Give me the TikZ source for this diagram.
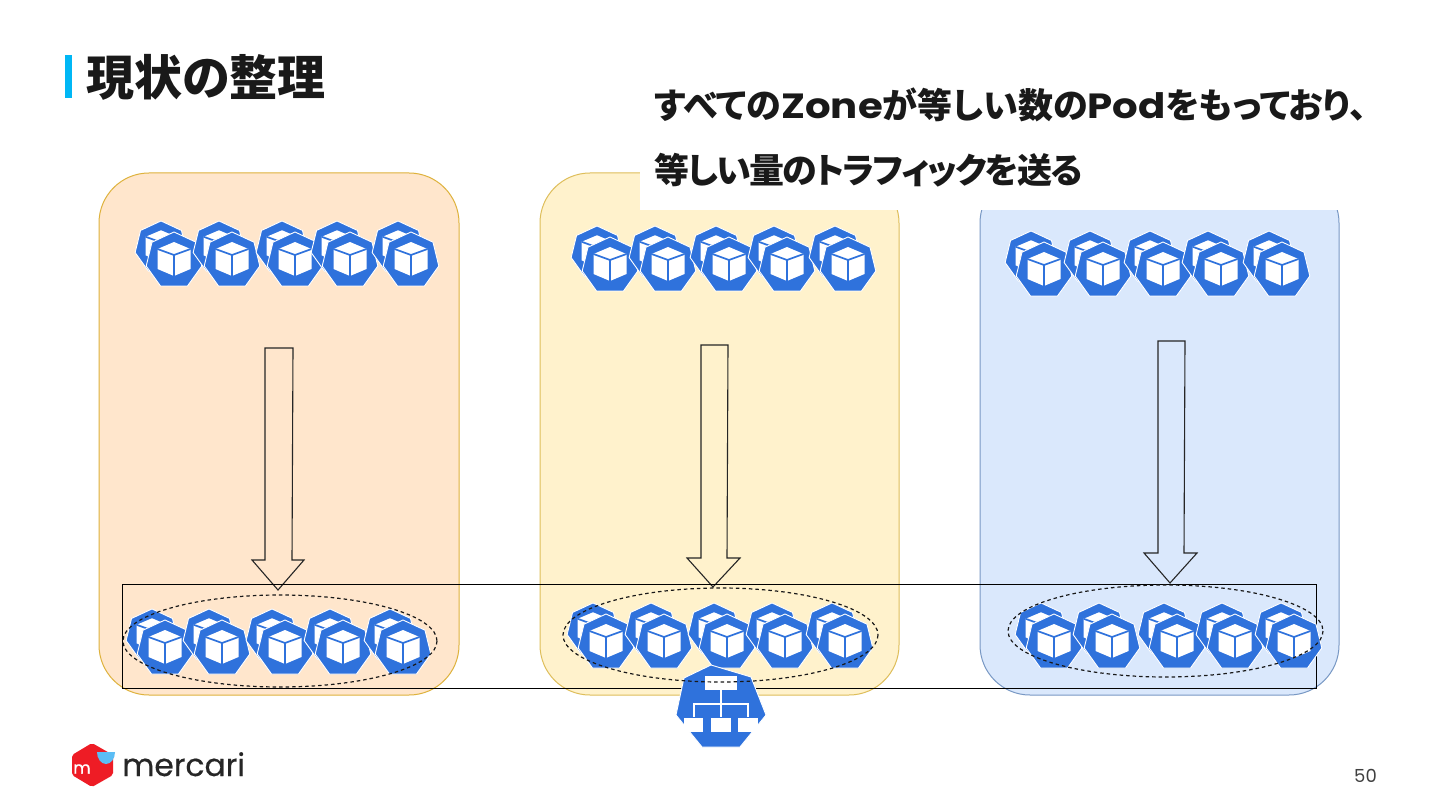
\documentclass[tikz,border=0pt]{standalone}
\usepackage{fontspec}
\newfontfamily\jpfont[RawFeature=+palt]{Noto Sans CJK JP}
\newfontfamily\jptight[RawFeature=+palt,LetterSpace=-5]{Noto Sans CJK JP}
\newfontfamily\latinfont[FakeStretch=1.15]{Poppins}
\newfontfamily\logofont[FakeBold=.5]{Poppins}
\newfontfamily\pagefont{Poppins}
\definecolor{kubeblue}{HTML}{2F72DC}
\definecolor{barcyan}{HTML}{00B7F5}
\definecolor{logored}{HTML}{EE1C25}
\definecolor{logoblue}{HTML}{5BBDF5}
\tikzset{zone/.style={rounded corners=50pt,line width=1pt},
fatarrow/.style={draw=black!85,fill=none,line width=1.1pt},
podring/.style={draw=black!90,line width=1.2pt,dash pattern=on 3.5pt off 3pt},
headline/.style={anchor=base west,inner sep=0pt,text=black!90,font=\fontsize{35}{40}\selectfont\bfseries},
kube/.pic={
\fill[kubeblue,draw=white,line width=.9pt,line join=round] (0,-28) -- (22,-17.8) -- (27.8,6) -- (13.5,26) -- (-13.5,26) -- (-27.8,6) -- (-22,-17.8) -- cycle;
\fill[white] (0,-18) -- (16.5,-11) -- (16.5,9) -- (0,16) -- (-16.5,9) -- (-16.5,-11) -- cycle;
\draw[kubeblue,line width=1.7pt] (-16.5,-11) -- (0,-5) -- (16.5,-11) (0,-5) -- (0,16);
},
pod/.pic={
\pic[scale=.93] at (-13,-13) {kube};
\pic at (0,0) {kube};
}}
\begin{document}
\begin{tikzpicture}[x=1pt,y=-1pt]
\path[use as bounding box,fill=white] (0,0) rectangle (1440,810);
\draw[zone,fill={rgb,255:red,255;green,230;blue,204},draw={rgb,255:red,222;green,178;blue,60}] (99,173) rectangle (459,695);
\draw[zone,fill={rgb,255:red,255;green,242;blue,204},draw={rgb,255:red,222;green,190;blue,90}] (540,173) rectangle (899,695);
\draw[zone,fill={rgb,255:red,218;green,232;blue,252},draw={rgb,255:red,120;green,152;blue,196}] (980,173) rectangle (1339,695);
\fill[white] (640,60) rectangle (1400,210);
\fill[barcyan] (65,55) rectangle (72,98);
\node[anchor=base west,inner sep=0pt,text=black!90,font=\fontsize{48}{52}\selectfont\bfseries\jpfont] (title) at (86,96) {現状の整理};
\node[headline] (line1) at (654,119) {\jpfont すべての\latinfont Zone\jpfont が等しい数の\latinfont Pod\jpfont をもっており、};
\node[headline] (line2) at (654,184) {\jptight 等しい量のトラフィックを送る};
% upper pods
\pic at (174,260) {pod};
\pic at (232,260) {pod};
\pic at (295,260) {pod};
\pic at (350,260) {pod};
\pic at (411,260) {pod};
\pic at (610,265) {pod};
\pic at (668,265) {pod};
\pic at (729,265) {pod};
\pic at (787,265) {pod};
\pic at (848,265) {pod};
\pic at (1044,270) {pod};
\pic at (1103,270) {pod};
\pic at (1163,270) {pod};
\pic at (1221,270) {pod};
\pic at (1282,270) {pod};
% arrows
\draw[fatarrow] (265,348) -- (293,348) -- (292,560) -- (304,560) -- (278,590) -- (252,560) -- (265,560) -- cycle;
\draw[fatarrow] (701,345) -- (728,345) -- (727,558) -- (740,558) -- (713,587) -- (687,558) -- (701,558) -- cycle;
\draw[fatarrow] (1158,341) -- (1185,341) -- (1184,553) -- (1197,553) -- (1170,583) -- (1144,553) -- (1158,553) -- cycle;
\draw[black,line width=.95pt] (122,584) rectangle (1316,688);
% lower pods
\pic at (165,648) {pod};
\pic at (222,648) {pod};
\pic at (285,648) {pod};
\pic at (343,648) {pod};
\pic at (403,648) {pod};
\pic at (606,642) {pod};
\pic at (664,642) {pod};
\pic at (727,642) {pod};
\pic at (785,642) {pod};
\pic at (845,642) {pod};
\pic at (1054,642) {pod};
\pic at (1112,642) {pod};
\pic at (1177,642) {pod};
\pic at (1235,642) {pod};
\pic at (1294,642) {pod};
% service icon
\fill[kubeblue,draw=white,line width=.9pt,line join=round] (711,665) -- (751,677) -- (766,715) -- (740,747) -- (702,747) -- (676,715) -- (684,678) -- cycle;
\fill[white] (705,676) rectangle (737,690);
\draw[white,line width=2.6pt] (721,690) -- (721,705) (694,717) -- (694,704) -- (748,704) -- (748,717) (721,704) -- (721,717);
\fill[white] (684,718) rectangle (703,732);
\fill[white] (711,718) rectangle (731,732);
\fill[white] (738,718) rectangle (758,732);
\draw[podring] (280,641) ellipse (157 and 46);
\draw[podring] (720.5,635) ellipse (157.5 and 47);
\draw[podring] (1165.5,631) ellipse (157.5 and 46);
% logo
\fill[logored,rounded corners=2pt] (92,743) -- (113,755) -- (113,775) -- (92,787) -- (72,775) -- (72,755) -- cycle;
\fill[logoblue] (97,752) -- (115,752) arc[start angle=0,end angle=-180,x radius=9,y radius=-12] -- cycle;
\node[anchor=center,inner sep=0pt,text=white,font=\fontsize{17}{17}\selectfont\logofont] (logom) at (82,769) {m};
\node[anchor=base west,inner sep=0pt,text=black!85,font=\fontsize{31.3}{34}\selectfont\logofont] (logotext) at (122,776) {mercari};
\node[anchor=base east,inner sep=0pt,text=black!75,font=\fontsize{18}{20}\selectfont\pagefont] (pageno) at (1377,782) {50};
\end{tikzpicture}
\end{document}
